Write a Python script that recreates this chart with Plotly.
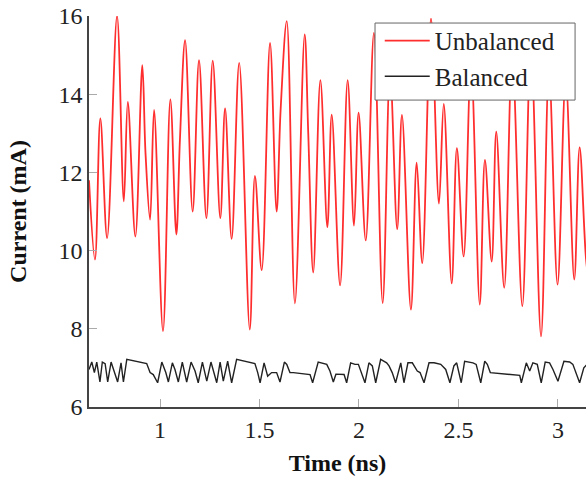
import plotly.graph_objects as go

# Unbalanced current: peaks / troughs (time in ns, current in mA)
unbal_t = [0.643, 0.673, 0.700, 0.734, 0.784, 0.818, 0.838, 0.876, 0.911, 0.927,
           0.950, 0.970, 1.015, 1.052, 1.082, 1.100, 1.126, 1.164, 1.196, 1.233,
           1.265, 1.303, 1.327, 1.360, 1.398, 1.451, 1.477, 1.511, 1.553, 1.586,
           1.606, 1.637, 1.678, 1.727, 1.745, 1.770, 1.806, 1.841, 1.863, 1.905,
           1.943, 1.975, 1.998, 2.034, 2.075, 2.119, 2.156, 2.192, 2.216, 2.261,
           2.290, 2.318, 2.362, 2.402, 2.426, 2.466, 2.492, 2.526, 2.563, 2.607,
           2.633, 2.667, 2.690, 2.730, 2.770, 2.821, 2.864, 2.915, 2.955, 2.998,
           3.039, 3.082, 3.109, 3.141, 3.160]
unbal_i = [11.80, 9.77, 13.38, 10.32, 16.00, 11.26, 13.80, 10.36, 14.74, 12.50,
           10.79, 13.60, 7.94, 13.87, 10.41, 12.83, 15.38, 11.00, 14.87, 10.83,
           14.86, 10.83, 13.64, 10.30, 14.80, 7.98, 11.91, 9.50, 15.31, 11.00,
           13.59, 15.87, 8.65, 15.53, 13.00, 9.44, 14.36, 10.60, 13.48, 9.11,
           14.36, 10.64, 13.53, 10.26, 15.57, 8.66, 14.60, 10.55, 13.47, 8.49,
           12.25, 9.68, 15.93, 11.20, 13.75, 9.16, 12.62, 9.85, 14.80, 8.62,
           12.32, 9.72, 13.04, 9.05, 15.00, 8.58, 15.20, 7.81, 14.60, 9.13,
           14.40, 9.26, 12.64, 9.80, 9.00]

# Balanced current
bal_t = [0.643, 0.657, 0.670, 0.682, 0.698, 0.710, 0.724, 0.737, 0.754, 0.770,
         0.787, 0.804, 0.816, 0.833, 0.933, 0.950, 0.966, 0.988, 1.009, 1.029,
         1.042, 1.062, 1.075, 1.092, 1.112, 1.134, 1.156, 1.176, 1.192, 1.213,
         1.235, 1.256, 1.285, 1.302, 1.318, 1.340, 1.360, 1.385, 1.477, 1.491,
         1.503, 1.523, 1.541, 1.561, 1.586, 1.603, 1.625, 1.637, 1.653, 1.670,
         1.754, 1.767, 1.795, 1.838, 1.854, 1.871, 1.884, 1.925, 1.938, 1.958,
         1.980, 1.997, 2.015, 2.030, 2.050, 2.067, 2.084, 2.109, 2.139, 2.151,
         2.167, 2.184, 2.210, 2.226, 2.246, 2.268, 2.293, 2.307, 2.327, 2.352,
         2.377, 2.411, 2.436, 2.457, 2.477, 2.491, 2.514, 2.531, 2.573, 2.589,
         2.612, 2.632, 2.645, 2.660, 2.808, 2.816, 2.841, 2.858, 2.874, 2.896,
         2.916, 2.936, 2.958, 2.975, 3.000, 3.030, 3.059, 3.075, 3.109, 3.130,
         3.151]
bal_i = [6.96, 7.15, 6.88, 7.15, 6.64, 7.15, 7.11, 6.64, 7.15, 6.88,
         6.64, 7.13, 6.64, 7.22, 7.11, 6.88, 6.83, 6.62, 7.15, 6.88,
         6.64, 7.13, 6.96, 6.64, 7.15, 6.64, 7.15, 6.92, 6.62, 7.15,
         6.66, 7.15, 6.62, 7.15, 6.66, 7.17, 6.62, 7.22, 7.11, 6.88,
         6.62, 7.13, 6.79, 6.88, 6.88, 6.64, 7.15, 7.09, 6.88, 6.88,
         6.83, 6.62, 7.15, 7.09, 6.92, 6.64, 6.84, 6.83, 6.62, 7.13,
         7.09, 7.09, 6.85, 6.62, 7.13, 7.05, 6.62, 7.22, 7.13, 7.05,
         6.88, 6.62, 7.13, 6.62, 7.13, 7.13, 6.92, 6.88, 6.62, 7.13,
         7.13, 7.09, 6.96, 6.62, 7.05, 7.13, 6.62, 7.17, 7.13, 7.09,
         6.62, 7.17, 7.09, 6.88, 6.81, 6.62, 7.13, 6.92, 7.13, 7.09,
         6.62, 7.15, 7.13, 6.96, 6.66, 7.17, 7.15, 7.09, 6.62, 7.00,
         7.12]

x_ticks = [1, 1.5, 2, 2.5, 3]
x_tick_text = ["1", "1.5", "2", "2.5", "3"]
y_ticks = [6, 8, 10, 12, 14, 16]

FONT = "Liberation Serif, Times New Roman, serif"

fig = go.Figure()
fig.add_trace(go.Scatter(
    x=unbal_t, y=unbal_i, mode="lines", name="Unbalanced",
    line=dict(color="#ff2e2e", width=1.8, shape="spline", smoothing=1.0),
))
fig.add_trace(go.Scatter(
    x=bal_t, y=bal_i, mode="lines", name="Balanced",
    line=dict(color="#222", width=1.4),
))

axis_common = dict(
    showgrid=False, zeroline=False, showline=True, linecolor="#444", linewidth=1.5,
    ticks="inside", ticklen=8, tickcolor="#aaa", tickwidth=1, automargin=False,
    ticklabeloverflow="allow",
    tickfont=dict(family=FONT, size=24, color="#222"),
)

fig.update_layout(
    width=586, height=478,
    margin=dict(l=89, r=0, t=16, b=71),
    paper_bgcolor="white", plot_bgcolor="white",
    font=dict(family=FONT, color="#222"),
    showlegend=True,
    legend=dict(
        x=0.585, y=0.995, xanchor="left", yanchor="top",
        bgcolor="rgba(0,0,0,0)", borderwidth=0,
        font=dict(family=FONT, size=25, color="#222"),
        tracegroupgap=0, itemwidth=45,
    ),
    # legend frame, drawn as a white box over the curves
    shapes=[dict(
        type="rect", xref="paper", yref="paper",
        x0=0.5755, x1=0.978, y0=0.785, y1=0.982,
        fillcolor="white", line=dict(color="#666", width=1), layer="above",
    )],
)
fig.update_xaxes(
    range=[0.643, 3.141], tickvals=x_ticks, ticktext=x_tick_text,
    title=dict(text="<b>Time (ns)</b>", font=dict(family=FONT, size=24, color="#111"), standoff=13),
    **axis_common,
)
fig.update_yaxes(
    range=[6, 16], tickvals=y_ticks,
    title=dict(text="<b>Current (mA)</b>", font=dict(family=FONT, size=24, color="#111"), standoff=25),
    **axis_common,
)

# drop the page's default body margin so the figure fills the window exactly
fig.write_html(
    "out.html",
    config={"displayModeBar": False},
    post_script="document.body.style.margin='0';",
)
